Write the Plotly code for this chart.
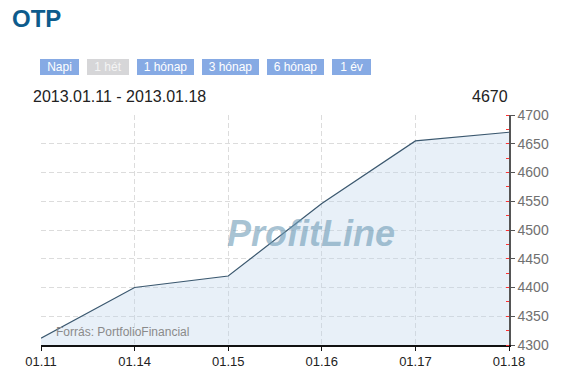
import plotly.graph_objects as go

# ---- data ----
dates = ["01.11", "01.14", "01.15", "01.16", "01.17", "01.18"]
prices = [4312, 4400, 4420, 4546, 4655, 4670]
y_ticks = [4300, 4350, 4400, 4450, 4500, 4550, 4600, 4650, 4700]
title_text = "OTP"
period_text = "2013.01.11 - 2013.01.18"
last_value = "4670"
buttons = ["Napi", "1 hét", "1 hónap", "3 hónap", "6 hónap", "1 év"]
source_text = "Forrás: PortfolioFinancial"

# ---- layout geometry (pixels) ----
W, H = 573, 370
L, R, T, B = 41, 64, 115, 25
PW, PH = W - L - R, H - T - B


def px(x):
    return (x - L) / PW


def py(y):
    return (H - B - y) / PH


FONT = "Liberation Sans, Arial, sans-serif"

fig = go.Figure()
fig.add_trace(go.Scatter(
    x=dates, y=prices, mode="lines",
    line=dict(color="#3b586f", width=1.2),
    fill="tozeroy", fillcolor="rgba(190,212,234,0.35)",
    hoverinfo="x+y", showlegend=False,
))

annotations = [
    dict(text="<b>" + title_text + "</b>", x=px(10), y=py(19), xanchor="left", yanchor="middle",
         font=dict(size=24, color="#0d5b8c", family=FONT)),
    dict(text=period_text, x=px(31), y=py(96), xanchor="left", yanchor="middle",
         font=dict(size=16, color="#222222", family=FONT)),
    dict(text=last_value, x=px(510), y=py(96), xanchor="right", yanchor="middle",
         font=dict(size=16, color="#222222", family=FONT)),
    dict(text=source_text, x=px(54), y=py(332), xanchor="left", yanchor="middle",
         font=dict(size=12, color="#8a8a8a", family=FONT)),
    dict(text="<b><i>ProfitLine</i></b>", x=px(311), y=py(233), xanchor="center", yanchor="middle",
         font=dict(size=36, color="rgba(110,155,182,0.6)", family=FONT)),
]

btn_geom = [(40, 39), (87, 42), (137, 57), (202, 57), (267, 57), (332, 39)]
for label, (bx, bw) in zip(buttons, btn_geom):
    active = label == "1 hét"
    annotations.append(dict(
        text=label, x=px(bx + bw / 2), y=py(67), xanchor="center", yanchor="middle",
        width=bw, height=16, borderpad=0, borderwidth=0,
        bgcolor="#d6d6d8" if active else "#86aae4",
        font=dict(size=12, color="#f4f4f4" if active else "#ffffff", family=FONT),
        showarrow=False,
    ))

for a in annotations:
    a.setdefault("showarrow", False)
    a["xref"] = "paper"
    a["yref"] = "paper"

GRID = dict(showgrid=True, gridcolor="#dcdcdc", griddash="5px,3px", gridwidth=1)

fig.update_layout(
    template="none",
    width=W, height=H,
    margin=dict(l=L, r=R, t=T, b=B, pad=0, autoexpand=False),
    paper_bgcolor="white", plot_bgcolor="white",
    annotations=annotations,
    font=dict(family=FONT),
    xaxis=dict(
        type="category", range=[0, len(dates) - 1], automargin=False,
        **GRID,
        showline=True, linecolor="#111111", linewidth=1.5,
        ticks="outside", ticklen=4, tickcolor="#111111",
        tickfont=dict(size=13, color="#222222", family=FONT),
        zeroline=False, fixedrange=True,
    ),
    yaxis=dict(
        side="right", range=[y_ticks[0], y_ticks[-1]], automargin=False,
        tickvals=y_ticks,
        **GRID,
        showline=True, linecolor="#555555", linewidth=1.5,
        ticks="outside", ticklen=4, tickcolor="#555555",
        tickfont=dict(size=14, color="#707070", family=FONT),
        minor=dict(dtick=25, ticks="inside", ticklen=3, tickcolor="#ff3333", showgrid=False),
        zeroline=False, fixedrange=True,
    ),
)

fig.write_html("out.html")
